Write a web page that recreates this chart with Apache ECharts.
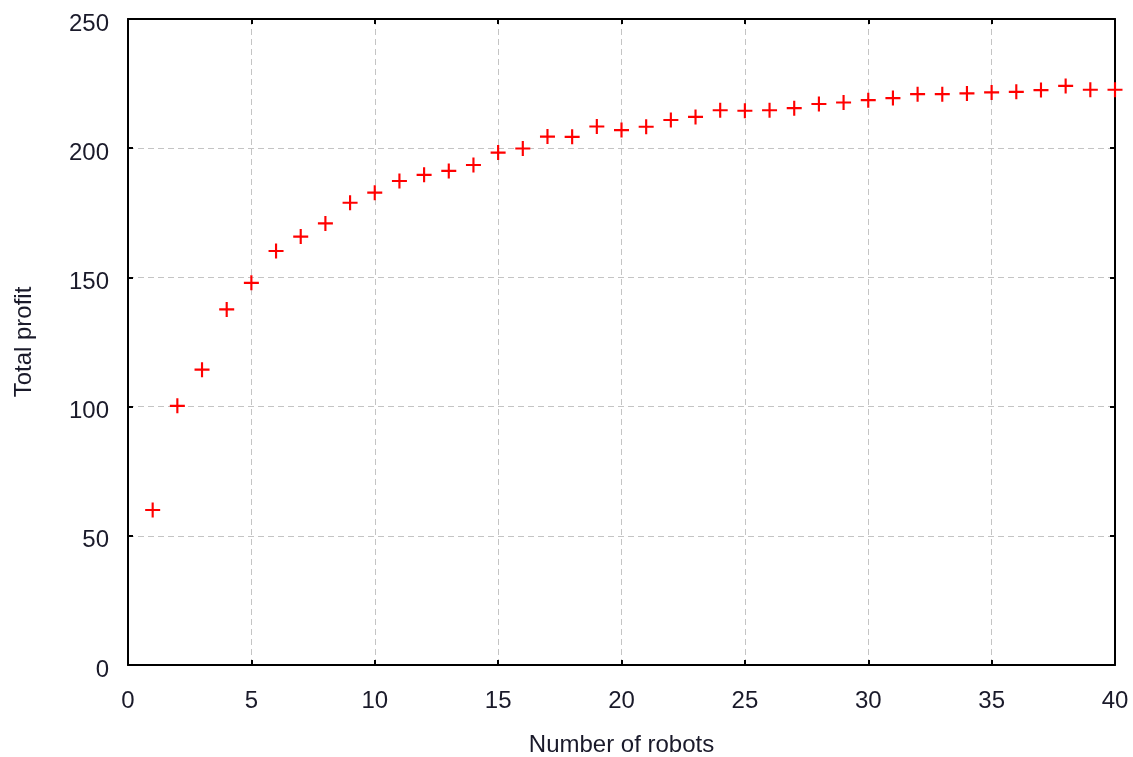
<!DOCTYPE html>
<html>
<head>
<meta charset="utf-8">
<script src="https://cdn.jsdelivr.net/npm/echarts@6/dist/echarts.min.js"></script>
<style>html,body{margin:0;padding:0;background:#fff;}#c{width:1133px;height:757px;}</style>
</head>
<body>
<div id="c"></div>
<script>
var robots = [1,2,3,4,5,6,7,8,9,10,11,12,13,14,15,16,17,18,19,20,21,22,23,24,25,26,27,28,29,30,31,32,33,34,35,36,37,38,39,40];
var profit = [60,100.3,114.3,137.6,147.9,160.2,165.8,170.9,178.9,182.8,187.3,189.7,191.2,193.5,198.3,199.9,204.5,204.4,208.4,207,208.3,210.9,212.1,214.7,214.5,214.7,215.5,217.1,217.7,218.6,219.4,220.9,220.9,221.2,221.6,221.8,222.5,224.1,222.6,222.6];
var xTicks = [0,5,10,15,20,25,30,35,40];
var yTicks = [0,50,100,150,200,250];

var points = robots.map(function(r,i){return [r, profit[i]];});
var font = '"Liberation Sans", Arial, sans-serif';
var labelColor = '#1a1a2a';
function axisLine(){return {show:true, onZero:false, lineStyle:{color:'#000', width:2}};}
function tick(){return {show:true, inside:true, length:5, lineStyle:{color:'#000', width:2}};}
function split(){return {show:true, lineStyle:{color:'#c4c4c4', type:[6,4], width:1}};}

var chart = echarts.init(document.getElementById('c'), null, {renderer:'canvas'});
chart.setOption({
  animation:false,
  backgroundColor:'#fff',
  grid:{left:128, right:18, top:19, bottom:92, containLabel:false, outerBoundsMode:'none'},
  xAxis:[{
    type:'value', position:'bottom', min:xTicks[0], max:xTicks[xTicks.length-1], interval:5,
    name:'Number of robots', nameLocation:'middle', nameGap:68,
    nameTextStyle:{fontFamily:font, fontSize:24, color:labelColor},
    axisLine:axisLine(), axisTick:tick(), splitLine:split(),
    axisLabel:{fontFamily:font, fontSize:24, color:labelColor, margin:24}
  },{
    type:'value', position:'top', min:xTicks[0], max:xTicks[xTicks.length-1], interval:5,
    axisLine:axisLine(), axisTick:tick(), splitLine:{show:false}, axisLabel:{show:false}
  }],
  yAxis:[{
    type:'value', position:'left', min:yTicks[0], max:yTicks[yTicks.length-1], interval:50,
    name:'Total profit', nameLocation:'middle', nameGap:92,
    nameTextStyle:{fontFamily:font, fontSize:24, color:labelColor},
    axisLine:axisLine(), axisTick:tick(), splitLine:split(),
    axisLabel:{fontFamily:font, fontSize:24, color:labelColor, margin:19, verticalAlign:'top', lineHeight:10}
  },{
    type:'value', position:'right', min:yTicks[0], max:yTicks[yTicks.length-1], interval:50,
    axisLine:axisLine(), axisTick:tick(), splitLine:{show:false}, axisLabel:{show:false}
  }],
  series:[{
    type:'scatter',
    xAxisIndex:0, yAxisIndex:0,
    data:points,
    symbol:'path://M0,6H14V8H0Z M6,0H8V14H6Z',
    symbolSize:15,
    itemStyle:{color:'#ff0000', opacity:1},
    clip:false
  }]
});
</script>
</body>
</html>
